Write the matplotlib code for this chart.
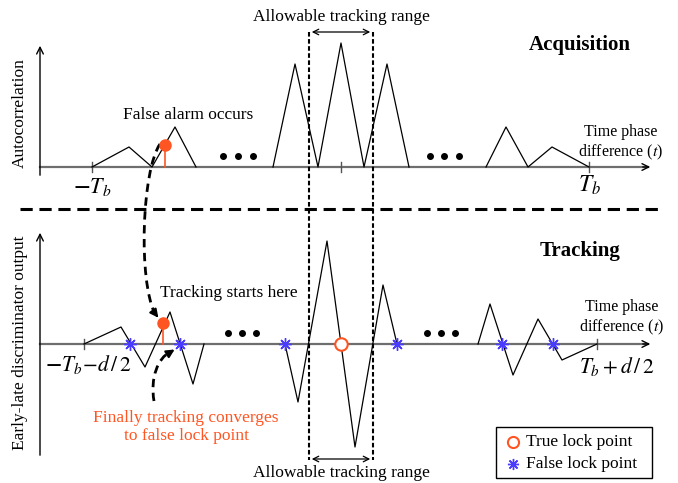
import matplotlib.pyplot as plt
from matplotlib.path import Path
from matplotlib.patches import PathPatch

plt.rcParams["font.family"] = "serif"
plt.rcParams["font.serif"] = ["Liberation Serif", "DejaVu Serif"]
plt.rcParams["mathtext.fontset"] = "stix"

# diagram, in pixel units (x right, y down)
acq_base = 167
acq_x = [92, 129, 152, 175, 196, None, 273, 295, 318, 341, 364, 387, 409, None, 486, 506, 528, 552, 589]
acq_y = [167, 147, 167, 127, 167, None, 167, 64, 167, 43, 167, 64, 167, None, 167, 127, 167, 147, 167]
acq_ticks = [92, 341, 589]
acq_alarm = (165, 145)

trk_base = 344
trk_x = [84, 121, 145, 170, 193, 204, None, 285, 298, 327, 355, 383, 397, None, 478, 490, 513, 538, 562, 597]
trk_y = [344, 327, 367, 312, 384, 344, None, 344, 402, 241, 447, 285, 344, None, 344, 304, 375, 319, 360, 344]
trk_ticks = [84, 597]
trk_start = (163, 323)
false_lock_x = [130, 180, 285, 397, 502, 553]
true_lock_x = [341]

dots_x = [[223, 238, 253], [430, 444, 459]]
trk_dots_x = [[228, 242, 256], [427, 441, 455]]

range_left, range_right = 309, 373

ORANGE = "#ff5522"
BLUE = "#4a3cff"

fig = plt.figure(figsize=(6.78, 4.83), dpi=100)
ax = fig.add_axes([0, 0, 1, 1])
ax.set_xlim(0, 678)
ax.set_ylim(483, 0)
ax.axis("off")


def axes_frame(y_top, y_bot, base):
    ax.annotate("", xy=(40, y_top), xytext=(40, y_bot),
                arrowprops=dict(arrowstyle="->", lw=1.0, color="k", mutation_scale=12))
    ax.plot([40, 648], [base, base], color="#6e6e6e", lw=1.6, zorder=1)
    ax.annotate("", xy=(653, base), xytext=(640, base),
                arrowprops=dict(arrowstyle="->", lw=1.0, color="k", mutation_scale=12))


# ---- acquisition panel ----
axes_frame(43, 178, acq_base)
for t in acq_ticks:
    ax.plot([t, t], [acq_base - 5, acq_base + 5], color="#555555", lw=1.0)
ax.plot([x if x is not None else float("nan") for x in acq_x],
        [y if y is not None else float("nan") for y in acq_y], color="k", lw=0.9)
ax.plot([acq_alarm[0]] * 2, [acq_alarm[1], acq_base], color=ORANGE, lw=1.2)
ax.plot(*acq_alarm, "o", color=ORANGE, ms=8, zorder=5)
for xs in dots_x:
    ax.plot(xs, [156] * 3, "o", color="k", ms=4)

ax.text(20, 113, "Autocorrelation", rotation=90, ha="center", va="center", fontsize=12.5)
ax.text(188, 115, "False alarm occurs", ha="center", va="center", fontsize=12.5)
ax.text(580, 45, "Acquisition", ha="center", va="center", fontsize=15, fontweight="bold")
ax.text(621, 143, "Time phase\ndifference ($t$)", ha="center", va="center",
        fontsize=11.5, linespacing=1.15)
ax.text(92, 187, r"$\mathbf{-}T_b$", ha="center", va="center", fontsize=16)
ax.text(589, 185, r"$T_b$", ha="center", va="center", fontsize=17)

# ---- separator ----
ax.plot([20, 663], [209, 209], color="k", lw=2.2, dashes=(4, 2.2))

# ---- allowable tracking range ----
for xv in (range_left, range_right):
    ax.plot([xv, xv], [32, 460], color="k", lw=1.5, dashes=(2.2, 1.2), zorder=4)
ax.annotate("", xy=(range_left, 32), xytext=(range_right, 32),
            arrowprops=dict(arrowstyle="<->", lw=0.9, color="k", mutation_scale=10))
ax.annotate("", xy=(range_left, 459), xytext=(range_right, 459),
            arrowprops=dict(arrowstyle="<->", lw=0.9, color="k", mutation_scale=10))
ax.text(341, 17, "Allowable tracking range", ha="center", va="center", fontsize=12.5)
ax.text(341, 473, "Allowable tracking range", ha="center", va="center", fontsize=12.5)

# ---- tracking panel ----
axes_frame(230, 458, trk_base)
for t in trk_ticks:
    ax.plot([t, t], [trk_base - 5, trk_base + 5], color="#555555", lw=1.0)
ax.plot([x if x is not None else float("nan") for x in trk_x],
        [y if y is not None else float("nan") for y in trk_y], color="k", lw=0.9)
ax.plot([trk_start[0]] * 2, [trk_start[1], trk_base], color=ORANGE, lw=1.2)
ax.plot(*trk_start, "o", color=ORANGE, ms=8, zorder=5)
ax.plot(false_lock_x, [trk_base] * len(false_lock_x), ls="none", marker=(8, 2, 0),
        color=BLUE, ms=9, mew=1.0, zorder=5)
ax.plot(true_lock_x, [trk_base] * len(true_lock_x), ls="none", marker="o", mfc="white",
        mec=ORANGE, ms=9, mew=1.5, zorder=5)
for xs in trk_dots_x:
    ax.plot(xs, [333] * 3, "o", color="k", ms=4)

ax.text(20, 343, "Early-late discriminator output", rotation=90, ha="center", va="center",
        fontsize=12.5)
ax.text(580, 251, "Tracking", ha="center", va="center", fontsize=15, fontweight="bold")
ax.text(622, 318, "Time phase\ndifference ($t$)", ha="center", va="center",
        fontsize=11.5, linespacing=1.15)
ax.text(229, 293, "Tracking starts here", ha="center", va="center", fontsize=12.5)
ax.text(186, 427, "Finally tracking converges\nto false lock point", ha="center",
        va="center", fontsize=12.5, color=ORANGE, linespacing=1.1)
ax.text(88, 364, r"$\mathbf{-}T_b\!-\!d\,/\,2$", ha="center", va="center", fontsize=15.5)
ax.text(617, 367, r"$T_b + d\,/\,2$", ha="center", va="center", fontsize=15.5)

# ---- curved dashed arrows ----
curve1 = Path([(160, 144), (142, 170), (138, 280), (155, 314)],
              [Path.MOVETO, Path.CURVE4, Path.CURVE4, Path.CURVE4])
ax.add_patch(PathPatch(curve1, fill=False, lw=2.0, ls=(0, (3, 2)), color="k"))
ax.annotate("", xy=(160, 320), xytext=(154, 312),
            arrowprops=dict(arrowstyle="-|>", lw=1.5, color="k", mutation_scale=12))
curve2 = Path([(154, 401), (150, 378), (158, 358), (170, 352)],
              [Path.MOVETO, Path.CURVE4, Path.CURVE4, Path.CURVE4])
ax.add_patch(PathPatch(curve2, fill=False, lw=2.0, ls=(0, (3, 2)), color="k"))
ax.annotate("", xy=(177, 348), xytext=(169, 353),
            arrowprops=dict(arrowstyle="-|>", lw=1.5, color="k", mutation_scale=12))

# ---- legend box ----
ax.add_patch(plt.Rectangle((496, 427), 156, 51, fill=False, lw=1.0, ec="k"))
ax.plot(513, 442, marker="o", mfc="white", mec=ORANGE, ms=8, mew=1.5)
ax.plot(513, 464, marker=(8, 2, 0), color=BLUE, ms=8, mew=1.0)
ax.text(526, 442, "True lock point", ha="left", va="center", fontsize=12.5)
ax.text(526, 464, "False lock point", ha="left", va="center", fontsize=12.5)

fig.savefig("out.png", dpi=100)
